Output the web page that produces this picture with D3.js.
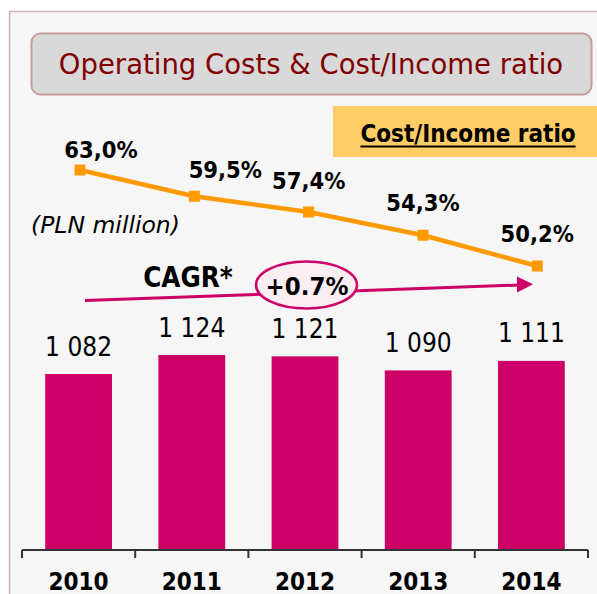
<!DOCTYPE html>
<html>
<head>
<meta charset="utf-8">
<script src="https://cdn.jsdelivr.net/npm/d3@7"></script>
<style>
  html, body { margin: 0; padding: 0; background: #ffffff; }
  svg { display: block; }
  .cond { font-family: 'DejaVu Sans Condensed', 'DejaVu Sans', sans-serif; font-stretch: condensed; }
</style>
</head>
<body>
<svg id="chart" width="597" height="594"></svg>
<script>
// ---- data ----
const years = ["2010", "2011", "2012", "2013", "2014"];
const costs = [1082, 1124, 1121, 1090, 1111];
const costLabels = ["1 082", "1 124", "1 121", "1 090", "1 111"];
const ratio = [63.0, 59.5, 57.4, 54.3, 50.2];
const ratioLabels = ["63,0%", "59,5%", "57,4%", "54,3%", "50,2%"];
const titleText = "Operating Costs & Cost/Income ratio";
const legendText = "Cost/Income ratio";
const unitText = "(PLN million)";
const cagrLabel = "CAGR*";
const cagrValue = "+0.7%";

// ---- layout (not data) ----
const ratioLabelOffsets = [[21, -12], [31, -18], [0, -23], [0, -24], [0, -24]];

const svg = d3.select("#chart");

// panel background
svg.append("rect").attr("x", 9.5).attr("y", 11.5).attr("width", 600).attr("height", 600)
  .attr("fill", "#f6f6f6").attr("stroke", "#d2b4b4").attr("stroke-width", 1.5);

// title box
svg.append("rect").attr("x", 31.5).attr("y", 33.5).attr("width", 560).attr("height", 61)
  .attr("rx", 9).attr("ry", 9)
  .attr("fill", "#d9d9d9").attr("stroke", "#c39c9c").attr("stroke-width", 2);
svg.append("text").attr("x", 311).attr("y", 74)
  .attr("text-anchor", "middle")
  .attr("font-family", "'DejaVu Sans', sans-serif")
  .attr("font-size", 27.5).attr("fill", "#800000")
  .text(titleText);

// legend box
svg.append("rect").attr("x", 333).attr("y", 106).attr("width", 270).attr("height", 51)
  .attr("fill", "#ffcc66");
const lt = svg.append("text").attr("class", "cond").attr("x", 468).attr("y", 141.5)
  .attr("text-anchor", "middle").attr("font-weight", "bold")
  .attr("font-size", 24).attr("fill", "#000")
  .text(legendText);
const lb = lt.node().getBBox();
svg.append("line").attr("x1", lb.x).attr("x2", lb.x + lb.width)
  .attr("y1", 146.5).attr("y2", 146.5)
  .attr("stroke", "#000").attr("stroke-width", 2);

// scales
const x = d3.scaleBand().domain(years).range([22, 588]).paddingInner(0.41).paddingOuter(0.205);
const yBar = d3.scaleLinear().domain([693, 1124]).range([550, 355]);
const xLine = d3.scalePoint().domain(years).range([80, 537.3]);
const yLine = d3.scaleLinear().domain([50.2, 63.0]).range([266, 170]);

// bars
svg.append("g").selectAll("rect").data(years).join("rect")
  .attr("x", d => x(d))
  .attr("width", x.bandwidth())
  .attr("y", (d, i) => yBar(costs[i]))
  .attr("height", (d, i) => yBar.range()[0] - yBar(costs[i]))
  .attr("fill", "#cc0066");

// bar value labels
svg.append("g").selectAll("text").data(years).join("text")
  .attr("class", "cond")
  .attr("x", d => x(d) + x.bandwidth() / 2)
  .attr("y", (d, i) => yBar(costs[i]) - 18.5)
  .attr("text-anchor", "middle")
  .attr("font-size", 26).attr("fill", "#000")
  .text((d, i) => costLabels[i]);

// x axis
const axis = d3.axisBottom(x).tickSize(0).tickFormat("");
const axG = svg.append("g").attr("transform", "translate(0,550)").call(axis);
axG.select(".domain").remove();
axG.append("line").attr("x1", 22).attr("x2", 588).attr("y1", 0).attr("y2", 0)
  .attr("stroke", "#333").attr("stroke-width", 2);
const tickXs = [22].concat(years.map(d => x(d) + x.bandwidth() + x.step() * 0.41 / 2));
axG.selectAll("line.tk").data(tickXs).join("line").attr("class", "tk")
  .attr("x1", d => d).attr("x2", d => d).attr("y1", 0).attr("y2", 8)
  .attr("stroke", "#333").attr("stroke-width", 2);
svg.append("g").selectAll("text").data(years).join("text")
  .attr("class", "cond")
  .attr("x", d => x(d) + x.bandwidth() / 2)
  .attr("y", 589.5)
  .attr("text-anchor", "middle").attr("font-weight", "bold")
  .attr("font-size", 24).attr("fill", "#000")
  .text(d => d);

// cost/income line
const line = d3.line().x((d, i) => xLine(years[i])).y(d => yLine(d));
svg.append("path").datum(ratio).attr("d", line)
  .attr("fill", "none").attr("stroke", "#ff9900").attr("stroke-width", 4.5);
svg.append("g").selectAll("rect").data(ratio).join("rect")
  .attr("x", (d, i) => xLine(years[i]) - 5.5)
  .attr("y", d => yLine(d) - 5.5)
  .attr("width", 11).attr("height", 11)
  .attr("fill", "#ff9900");
svg.append("g").selectAll("text").data(ratio).join("text")
  .attr("class", "cond")
  .attr("x", (d, i) => xLine(years[i]) + ratioLabelOffsets[i][0])
  .attr("y", (d, i) => yLine(d) + ratioLabelOffsets[i][1])
  .attr("text-anchor", "middle").attr("font-weight", "bold")
  .attr("font-size", 23.5).attr("fill", "#000")
  .text((d, i) => ratioLabels[i]);

// unit label
svg.append("text").attr("x", 31).attr("y", 233)
  .attr("font-family", "'DejaVu Sans', sans-serif").attr("font-style", "italic")
  .attr("font-size", 23.5).attr("fill", "#000")
  .text(unitText);

// CAGR arrow
svg.append("line").attr("x1", 85).attr("y1", 300.5).attr("x2", 520).attr("y2", 285)
  .attr("stroke", "#cc0066").attr("stroke-width", 3);
svg.append("path").attr("d", "M533,284.3 L517,276.5 L517,292.5 Z").attr("fill", "#cc0066");
svg.append("ellipse").attr("cx", 306.5).attr("cy", 285).attr("rx", 50.5).attr("ry", 23.5)
  .attr("fill", "#fbeef3").attr("stroke", "#cc0066").attr("stroke-width", 2.5);
svg.append("text").attr("class", "cond").attr("x", 307).attr("y", 295)
  .attr("text-anchor", "middle").attr("font-weight", "bold")
  .attr("font-size", 25.5).attr("fill", "#000")
  .text(cagrValue);
svg.append("text").attr("class", "cond").attr("x", 188).attr("y", 286.5)
  .attr("text-anchor", "middle").attr("font-weight", "bold")
  .attr("font-size", 27.5).attr("fill", "#000")
  .text(cagrLabel);
</script>
</body>
</html>
